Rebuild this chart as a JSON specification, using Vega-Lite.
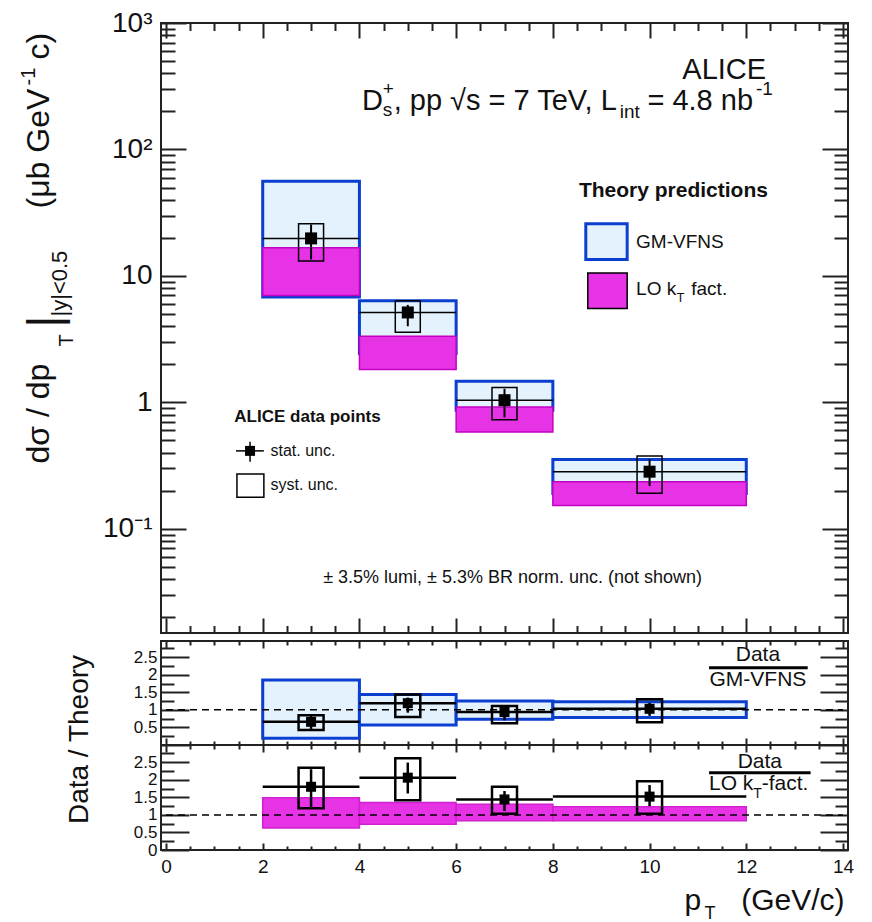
{
  "$schema": "https://vega.github.io/schema/vega-lite/v6.json",
  "background": "white",
  "padding": {"left": 17, "top": 8, "right": 5, "bottom": 0},
  "spacing": 0,
  "bounds": "flush",
  "resolve": {"scale": {"x": "independent", "y": "independent"}},
  "config": {
    "font": "Liberation Sans",
    "view": {"stroke": "#222", "strokeWidth": 2},
    "axis": {"grid": false, "domain": false, "labelFlush": false, "labelOverlap": false, "tickColor": "#222", "tickWidth": 2, "labelColor": "#111", "titleColor": "#111", "titleFontWeight": "normal", "labelFont": "Liberation Sans", "titleFont": "Liberation Sans", "zindex": 1, "titlePadding": 0},
    "text": {"font": "Liberation Sans", "color": "#111"}
  },
  "datasets": {
    "top_data": [
      {"pt": 3, "pt_lo": 2, "pt_hi": 4, "val": 19.8, "stat_lo": 13.5, "stat_hi": 25.5, "syst_lo": 13.1, "syst_hi": 25.8},
      {"pt": 5, "pt_lo": 4, "pt_hi": 6, "val": 5.14, "stat_lo": 4.0, "stat_hi": 5.9, "syst_lo": 3.58, "syst_hi": 6.36},
      {"pt": 7, "pt_lo": 6, "pt_hi": 8, "val": 1.04, "stat_lo": 0.76, "stat_hi": 1.28, "syst_lo": 0.73, "syst_hi": 1.31},
      {"pt": 10, "pt_lo": 8, "pt_hi": 12, "val": 0.283, "stat_lo": 0.218, "stat_hi": 0.354, "syst_lo": 0.191, "syst_hi": 0.376}
    ],
    "top_gm": [
      {"pt_lo": 2, "pt_hi": 4, "lo": 6.8, "hi": 56},
      {"pt_lo": 4, "pt_hi": 6, "lo": 2.43, "hi": 6.36},
      {"pt_lo": 6, "pt_hi": 8, "lo": 0.865, "hi": 1.47},
      {"pt_lo": 8, "pt_hi": 12, "lo": 0.19, "hi": 0.354}
    ],
    "top_lo": [
      {"pt_lo": 2, "pt_hi": 4, "lo": 7.0, "hi": 16.7},
      {"pt_lo": 4, "pt_hi": 6, "lo": 1.82, "hi": 3.33},
      {"pt_lo": 6, "pt_hi": 8, "lo": 0.584, "hi": 0.918},
      {"pt_lo": 8, "pt_hi": 12, "lo": 0.153, "hi": 0.236}
    ],
    "gm_ratio": [
      {"pt": 3, "pt_lo": 2, "pt_hi": 4, "val": 0.66, "stat_lo": 0.45, "stat_hi": 0.83, "syst_lo": 0.43, "syst_hi": 0.85},
      {"pt": 5, "pt_lo": 4, "pt_hi": 6, "val": 1.19, "stat_lo": 0.92, "stat_hi": 1.35, "syst_lo": 0.80, "syst_hi": 1.44},
      {"pt": 7, "pt_lo": 6, "pt_hi": 8, "val": 0.94, "stat_lo": 0.70, "stat_hi": 1.06, "syst_lo": 0.62, "syst_hi": 1.11},
      {"pt": 10, "pt_lo": 8, "pt_hi": 12, "val": 1.03, "stat_lo": 0.83, "stat_hi": 1.20, "syst_lo": 0.65, "syst_hi": 1.30}
    ],
    "gm_band": [
      {"pt_lo": 2, "pt_hi": 4, "lo": 0.19, "hi": 1.85},
      {"pt_lo": 4, "pt_hi": 6, "lo": 0.57, "hi": 1.44},
      {"pt_lo": 6, "pt_hi": 8, "lo": 0.73, "hi": 1.25},
      {"pt_lo": 8, "pt_hi": 12, "lo": 0.78, "hi": 1.23}
    ],
    "lo_ratio": [
      {"pt": 3, "pt_lo": 2, "pt_hi": 4, "val": 1.80, "stat_lo": 1.2, "stat_hi": 2.3, "syst_lo": 1.19, "syst_hi": 2.34},
      {"pt": 5, "pt_lo": 4, "pt_hi": 6, "val": 2.06, "stat_lo": 1.61, "stat_hi": 2.49, "syst_lo": 1.42, "syst_hi": 2.61},
      {"pt": 7, "pt_lo": 6, "pt_hi": 8, "val": 1.44, "stat_lo": 1.11, "stat_hi": 1.68, "syst_lo": 1.03, "syst_hi": 1.80},
      {"pt": 10, "pt_lo": 8, "pt_hi": 12, "val": 1.52, "stat_lo": 1.25, "stat_hi": 1.85, "syst_lo": 1.03, "syst_hi": 1.96}
    ],
    "lo_band": [
      {"pt_lo": 2, "pt_hi": 4, "lo": 0.63, "hi": 1.49},
      {"pt_lo": 4, "pt_hi": 6, "lo": 0.73, "hi": 1.35},
      {"pt_lo": 6, "pt_hi": 8, "lo": 0.83, "hi": 1.30},
      {"pt_lo": 8, "pt_hi": 12, "lo": 0.83, "hi": 1.23}
    ]
  },
  "vconcat": [
    {
      "width": 687, "height": 610,
      "resolve": {"axis": {"x": "independent", "y": "independent"}},
      "layer": [
        {"data": {"name": "top_gm"}, "mark": {"type": "rect", "fill": "#e3f2fc", "stroke": "#0b3fd0", "strokeWidth": 3},
         "encoding": {
           "x": {"field": "pt_lo", "type": "quantitative", "scale": {"domain": [0, 14], "nice": false, "zero": false},
                 "axis": {"orient": "bottom", "values": [0, 2, 4, 6, 8, 10, 12, 14], "labels": false, "tickSize": -15, "title": null}},
           "x2": {"field": "pt_hi"},
           "y": {"field": "lo", "type": "quantitative", "scale": {"type": "log", "domain": [0.015, 1000], "nice": false},
                 "axis": {"orient": "left", "values": [0.1, 1, 10, 100, 1000], "ticks": false, "labelPadding": 9, "labelFontSize": 28, "labelBaseline": "middle", "labelAlign": "right",
                          "labelExpr": "datum.value > 500 ? '10³' : datum.value > 50 ? '10²' : datum.value > 5 ? '10' : datum.value > 0.5 ? '1' : '10⁻¹'",
                          "title": "dσ / dp", "titleFontSize": 32, "titleAngle": -90, "titleX": -113, "titleY": 440, "titleAlign": "left", "titleBaseline": "alphabetic"}},
           "y2": {"field": "hi"}}},
        {"data": {"name": "top_lo"}, "mark": {"type": "rect", "fill": "#e633e6", "stroke": "#c400c4", "strokeWidth": 1.5},
         "encoding": {
           "x": {"field": "pt_lo", "type": "quantitative",
                 "axis": {"orient": "bottom", "values": [0.5, 1, 1.5, 2.5, 3, 3.5, 4.5, 5, 5.5, 6.5, 7, 7.5, 8.5, 9, 9.5, 10.5, 11, 11.5, 12.5, 13, 13.5], "labels": false, "tickSize": -7.5, "title": null}},
           "x2": {"field": "pt_hi"},
           "y": {"field": "lo", "type": "quantitative",
                 "axis": {"orient": "left", "values": [0.1, 1, 10, 100, 1000], "labels": false, "tickSize": -25,
                          "title": "T", "titleFontSize": 20, "titleAngle": -90, "titleX": -89, "titleY": 317, "titleAlign": "center", "titleBaseline": "alphabetic"}},
           "y2": {"field": "hi"}}},
        {"data": {"name": "top_data"}, "mark": {"type": "rule", "stroke": "#000", "strokeWidth": 1.5},
         "encoding": {
           "x": {"field": "pt_lo", "type": "quantitative",
                 "axis": {"orient": "top", "values": [0, 2, 4, 6, 8, 10, 12, 14], "labels": false, "tickSize": -15,
                          "title": "-1", "titleFontSize": 20, "titleAngle": -90, "titleX": -127, "titleY": 62, "titleAlign": "left", "titleBaseline": "alphabetic"}},
           "x2": {"field": "pt_hi"},
           "y": {"field": "val", "type": "quantitative",
                 "axis": {"orient": "left", "values": [0.02, 0.03, 0.04, 0.05, 0.06, 0.07, 0.08, 0.09, 0.2, 0.3, 0.4, 0.5, 0.6, 0.7, 0.8, 0.9, 2, 3, 4, 5, 6, 7, 8, 9, 20, 30, 40, 50, 60, 70, 80, 90, 200, 300, 400, 500, 600, 700, 800, 900], "labels": false, "tickSize": -14,
                          "title": "|", "titleFontSize": 46, "titleAngle": -90, "titleX": -102, "titleY": 298, "titleAlign": "center", "titleBaseline": "alphabetic"}}}},
        {"data": {"name": "top_data"}, "mark": {"type": "bar", "width": 25, "fill": "transparent", "stroke": "#000", "strokeWidth": 1.5},
         "encoding": {
           "x": {"field": "pt", "type": "quantitative",
                 "axis": {"orient": "top", "values": [0.5, 1, 1.5, 2.5, 3, 3.5, 4.5, 5, 5.5, 6.5, 7, 7.5, 8.5, 9, 9.5, 10.5, 11, 11.5, 12.5, 13, 13.5], "labels": false, "tickSize": -7.5,
                          "title": "c)", "titleFontSize": 32, "titleAngle": -90, "titleX": -113, "titleY": 36, "titleAlign": "left", "titleBaseline": "alphabetic"}},
           "y": {"field": "syst_lo", "type": "quantitative",
                 "axis": {"orient": "right", "values": [0.1, 1, 10, 100, 1000], "labels": false, "tickSize": -26,
                          "title": "|y|<0.5", "titleFontSize": 22, "titleAngle": -90, "titleX": -782, "titleY": 293, "titleAlign": "left", "titleBaseline": "alphabetic"}},
           "y2": {"field": "syst_hi"}}},
        {"data": {"name": "top_data"}, "mark": {"type": "rule", "stroke": "#000", "strokeWidth": 2},
         "encoding": {
           "x": {"field": "pt", "type": "quantitative", "axis": null},
           "y": {"field": "stat_lo", "type": "quantitative",
                 "axis": {"orient": "right", "values": [0.02, 0.03, 0.04, 0.05, 0.06, 0.07, 0.08, 0.09, 0.2, 0.3, 0.4, 0.5, 0.6, 0.7, 0.8, 0.9, 2, 3, 4, 5, 6, 7, 8, 9, 20, 30, 40, 50, 60, 70, 80, 90, 200, 300, 400, 500, 600, 700, 800, 900], "labels": false, "tickSize": -14,
                          "title": "(μb GeV", "titleFontSize": 32, "titleAngle": -90, "titleX": -800, "titleY": 185, "titleAlign": "left", "titleBaseline": "alphabetic"}},
           "y2": {"field": "stat_hi"}}},
        {"data": {"name": "top_data"}, "mark": {"type": "point", "shape": "square", "filled": true, "size": 144, "color": "#000", "opacity": 1},
         "encoding": {"x": {"field": "pt", "type": "quantitative", "axis": null}, "y": {"field": "val", "type": "quantitative", "axis": null}}},

        {"data": {"values": [{}]}, "mark": {"type": "rect", "fill": "#e3f2fc", "stroke": "#0b3fd0", "strokeWidth": 3},
         "encoding": {"x": {"datum": 8.681, "axis": null}, "x2": {"datum": 9.537}, "y": {"datum": 13.5, "axis": null}, "y2": {"datum": 25.8}}},
        {"data": {"values": [{}]}, "mark": {"type": "rect", "fill": "#e633e6", "stroke": "#000", "strokeWidth": 1.5},
         "encoding": {"x": {"datum": 8.722, "axis": null}, "x2": {"datum": 9.537}, "y": {"datum": 5.53, "axis": null}, "y2": {"datum": 10.56}}},
        {"data": {"values": [{}]}, "mark": {"type": "rule", "stroke": "#000", "strokeWidth": 1.5},
         "encoding": {"x": {"datum": 1.447, "axis": null}, "x2": {"datum": 2.024}, "y": {"datum": 0.4134, "axis": null}}},
        {"data": {"values": [{}]}, "mark": {"type": "rule", "stroke": "#000", "strokeWidth": 1.5},
         "encoding": {"x": {"datum": 1.738, "axis": null}, "y": {"datum": 0.339, "axis": null}, "y2": {"datum": 0.487}}},
        {"data": {"values": [{}]}, "mark": {"type": "point", "shape": "square", "filled": true, "size": 100, "color": "#000", "opacity": 1},
         "encoding": {"x": {"datum": 1.738, "axis": null}, "y": {"datum": 0.4134, "axis": null}}},
        {"data": {"values": [{}]}, "mark": {"type": "rect", "fill": "transparent", "stroke": "#000", "strokeWidth": 1.5},
         "encoding": {"x": {"datum": 1.467, "axis": null}, "x2": {"datum": 2.024}, "y": {"datum": 0.178, "axis": null}, "y2": {"datum": 0.271}}},

        {"data": {"values": [{}]}, "mark": {"type": "text", "text": "ALICE", "fontSize": 29, "align": "right", "baseline": "alphabetic"},
         "encoding": {"x": {"datum": 12.41, "axis": null}, "y": {"datum": 362.4, "axis": null}}},
        {"data": {"values": [{}]}, "mark": {"type": "text", "text": "D", "fontSize": 29, "align": "left", "baseline": "alphabetic"},
         "encoding": {"x": {"datum": 4.055, "axis": null}, "y": {"datum": 206.5, "axis": null}}},
        {"data": {"values": [{}]}, "mark": {"type": "text", "text": "s", "fontSize": 19, "align": "left", "baseline": "alphabetic"},
         "encoding": {"x": {"datum": 4.483, "axis": null}, "y": {"datum": 185.3, "axis": null}}},
        {"data": {"values": [{}]}, "mark": {"type": "text", "text": "+", "fontSize": 19, "align": "left", "baseline": "alphabetic"},
         "encoding": {"x": {"datum": 4.483, "axis": null}, "y": {"datum": 271, "axis": null}}},
        {"data": {"values": [{}]}, "mark": {"type": "text", "text": ", pp √s = 7 TeV, L", "fontSize": 29, "align": "left", "baseline": "alphabetic"},
         "encoding": {"x": {"datum": 4.708, "axis": null}, "y": {"datum": 206.5, "axis": null}}},
        {"data": {"values": [{}]}, "mark": {"type": "text", "text": "int", "fontSize": 19, "align": "left", "baseline": "alphabetic"},
         "encoding": {"x": {"datum": 9.385, "axis": null}, "y": {"datum": 178.6, "axis": null}}},
        {"data": {"values": [{}]}, "mark": {"type": "text", "text": "= 4.8 nb", "fontSize": 29, "align": "left", "baseline": "alphabetic"},
         "encoding": {"x": {"datum": 9.955, "axis": null}, "y": {"datum": 206.5, "axis": null}}},
        {"data": {"values": [{}]}, "mark": {"type": "text", "text": "-1", "fontSize": 19, "align": "left", "baseline": "alphabetic"},
         "encoding": {"x": {"datum": 12.2, "axis": null}, "y": {"datum": 271, "axis": null}}},
        {"data": {"values": [{}]}, "mark": {"type": "text", "text": "Theory predictions", "fontSize": 21, "fontWeight": "bold", "align": "left", "baseline": "middle"},
         "encoding": {"x": {"datum": 8.539, "axis": null}, "y": {"datum": 46.7, "axis": null}}},
        {"data": {"values": [{}]}, "mark": {"type": "text", "text": "GM-VFNS", "fontSize": 19, "align": "left", "baseline": "middle"},
         "encoding": {"x": {"datum": 9.721, "axis": null}, "y": {"datum": 18.6, "axis": null}}},
        {"data": {"values": [{}]}, "mark": {"type": "text", "text": "LO k", "fontSize": 19, "align": "left", "baseline": "middle"},
         "encoding": {"x": {"datum": 9.721, "axis": null}, "y": {"datum": 7.86, "axis": null}}},
        {"data": {"values": [{}]}, "mark": {"type": "text", "text": "T", "fontSize": 13, "align": "left", "baseline": "middle"},
         "encoding": {"x": {"datum": 10.556, "axis": null}, "y": {"datum": 6.71, "axis": null}}},
        {"data": {"values": [{}]}, "mark": {"type": "text", "text": "fact.", "fontSize": 19, "align": "left", "baseline": "middle"},
         "encoding": {"x": {"datum": 10.862, "axis": null}, "y": {"datum": 7.86, "axis": null}}},
        {"data": {"values": [{}]}, "mark": {"type": "text", "text": "ALICE data points", "fontSize": 17, "fontWeight": "bold", "align": "left", "baseline": "middle"},
         "encoding": {"x": {"datum": 1.413, "axis": null}, "y": {"datum": 0.766, "axis": null}}},
        {"data": {"values": [{}]}, "mark": {"type": "text", "text": "stat. unc.", "fontSize": 16, "align": "left", "baseline": "middle"},
         "encoding": {"x": {"datum": 2.16, "axis": null}, "y": {"datum": 0.4134, "axis": null}}},
        {"data": {"values": [{}]}, "mark": {"type": "text", "text": "syst. unc.", "fontSize": 16, "align": "left", "baseline": "middle"},
         "encoding": {"x": {"datum": 2.16, "axis": null}, "y": {"datum": 0.222, "axis": null}}},
        {"data": {"values": [{}]}, "mark": {"type": "text", "text": "± 3.5% lumi, ± 5.3% BR norm. unc. (not shown)", "fontSize": 18, "align": "right", "baseline": "middle"},
         "encoding": {"x": {"datum": 11.086, "axis": null}, "y": {"datum": 0.0411, "axis": null}}}
      ]
    },
    {
      "width": 687, "height": 8,
      "view": {"stroke": null},
      "data": {"values": []},
      "mark": {"type": "rule"},
      "encoding": {}
    },
    {
      "width": 687, "height": 104,
      "resolve": {"axis": {"x": "independent", "y": "independent"}},
      "layer": [
        {"data": {"name": "gm_band"}, "mark": {"type": "rect", "fill": "#e3f2fc", "stroke": "#0b3fd0", "strokeWidth": 3},
         "encoding": {
           "x": {"field": "pt_lo", "type": "quantitative", "scale": {"domain": [0, 14], "nice": false, "zero": false},
                 "axis": {"orient": "bottom", "values": [0, 2, 4, 6, 8, 10, 12, 14], "labels": false, "tickSize": -7, "title": null}},
           "x2": {"field": "pt_hi"},
           "y": {"field": "lo", "type": "quantitative", "scale": {"domain": [0, 2.96], "nice": false, "zero": false},
                 "axis": {"orient": "left", "values": [0.5, 1, 1.5, 2, 2.5], "ticks": false, "labelPadding": 4, "labelFontSize": 17, "format": "~g", "labelBaseline": "middle", "labelAlign": "right",
                          "title": "Data / Theory", "titleFontSize": 28, "titleAngle": -90, "titleX": -74, "titleY": 98, "titleAlign": "center", "titleBaseline": "alphabetic"}},
           "y2": {"field": "hi"}}},
        {"data": {"values": [{}]}, "mark": {"type": "rule", "stroke": "#000", "strokeWidth": 1.5, "strokeDash": [7, 5]},
         "encoding": {"x": {"datum": 0, "axis": null}, "x2": {"datum": 14}, "y": {"datum": 1, "axis": null}}},
        {"data": {"name": "gm_ratio"}, "mark": {"type": "rule", "stroke": "#000", "strokeWidth": 2.5},
         "encoding": {
           "x": {"field": "pt_lo", "type": "quantitative",
                 "axis": {"orient": "bottom", "values": [0.5, 1, 1.5, 2.5, 3, 3.5, 4.5, 5, 5.5, 6.5, 7, 7.5, 8.5, 9, 9.5, 10.5, 11, 11.5, 12.5, 13, 13.5], "labels": false, "tickSize": -4, "title": null}},
           "x2": {"field": "pt_hi"},
           "y": {"field": "val", "type": "quantitative",
                 "axis": {"orient": "left", "values": [0, 0.5, 1, 1.5, 2, 2.5], "labels": false, "tickSize": -28, "title": null}}}},
        {"data": {"name": "gm_ratio"}, "mark": {"type": "bar", "width": 25, "fill": "transparent", "stroke": "#000", "strokeWidth": 2.5},
         "encoding": {
           "x": {"field": "pt", "type": "quantitative",
                 "axis": {"orient": "top", "values": [0, 2, 4, 6, 8, 10, 12, 14], "labels": false, "tickSize": -7, "title": null}},
           "y": {"field": "syst_lo", "type": "quantitative",
                 "axis": {"orient": "left", "values": [0.25, 0.75, 1.25, 1.75, 2.25, 2.75], "labels": false, "tickSize": -13, "title": null}},
           "y2": {"field": "syst_hi"}}},
        {"data": {"name": "gm_ratio"}, "mark": {"type": "rule", "stroke": "#000", "strokeWidth": 2.5},
         "encoding": {
           "x": {"field": "pt", "type": "quantitative",
                 "axis": {"orient": "top", "values": [0.5, 1, 1.5, 2.5, 3, 3.5, 4.5, 5, 5.5, 6.5, 7, 7.5, 8.5, 9, 9.5, 10.5, 11, 11.5, 12.5, 13, 13.5], "labels": false, "tickSize": -4, "title": null}},
           "y": {"field": "stat_lo", "type": "quantitative",
                 "axis": {"orient": "right", "values": [0, 0.5, 1, 1.5, 2, 2.5], "labels": false, "tickSize": -28, "title": null}},
           "y2": {"field": "stat_hi"}}},
        {"data": {"name": "gm_ratio"}, "mark": {"type": "point", "shape": "square", "filled": true, "size": 100, "color": "#000", "opacity": 1},
         "encoding": {
           "x": {"field": "pt", "type": "quantitative", "axis": null},
           "y": {"field": "val", "type": "quantitative",
                 "axis": {"orient": "right", "values": [0.25, 0.75, 1.25, 1.75, 2.25, 2.75], "labels": false, "tickSize": -13, "title": null}}}},
        {"data": {"values": [{}]}, "mark": {"type": "text", "text": "Data", "fontSize": 21, "align": "center", "baseline": "middle"},
         "encoding": {"x": {"datum": 12.24, "axis": null}, "y": {"datum": 2.56, "axis": null}}},
        {"data": {"values": [{}]}, "mark": {"type": "rule", "stroke": "#000", "strokeWidth": 3},
         "encoding": {"x": {"datum": 11.23, "axis": null}, "x2": {"datum": 13.27}, "y": {"datum": 2.2, "axis": null}}},
        {"data": {"values": [{}]}, "mark": {"type": "text", "text": "GM-VFNS", "fontSize": 21, "align": "center", "baseline": "middle"},
         "encoding": {"x": {"datum": 12.24, "axis": null}, "y": {"datum": 1.84, "axis": null}}}
      ]
    },
    {
      "width": 687, "height": 105,
      "resolve": {"axis": {"x": "independent", "y": "independent"}},
      "layer": [
        {"data": {"name": "lo_band"}, "mark": {"type": "rect", "fill": "#e633e6", "stroke": "#d020d0", "strokeWidth": 1.5},
         "encoding": {
           "x": {"field": "pt_lo", "type": "quantitative", "scale": {"domain": [0, 14], "nice": false, "zero": false},
                 "axis": {"orient": "bottom", "values": [0, 2, 4, 6, 8, 10, 12, 14], "labels": false, "tickSize": -7,
                          "title": "p", "titleFontSize": 30, "titleX": 523, "titleY": 59, "titleAlign": "left", "titleBaseline": "alphabetic", "titleAngle": 0}},
           "x2": {"field": "pt_hi"},
           "y": {"field": "lo", "type": "quantitative", "scale": {"domain": [0, 2.99], "nice": false, "zero": false},
                 "axis": {"orient": "left", "values": [0, 0.5, 1, 1.5, 2, 2.5], "ticks": false, "labelPadding": 4, "labelFontSize": 17, "format": "~g", "labelBaseline": "middle", "labelAlign": "right", "title": null}},
           "y2": {"field": "hi"}}},
        {"data": {"values": [{}]}, "mark": {"type": "rule", "stroke": "#000", "strokeWidth": 1.5, "strokeDash": [7, 5]},
         "encoding": {"x": {"datum": 0, "axis": null}, "x2": {"datum": 14}, "y": {"datum": 1, "axis": null}}},
        {"data": {"name": "lo_ratio"}, "mark": {"type": "rule", "stroke": "#000", "strokeWidth": 2.5},
         "encoding": {
           "x": {"field": "pt_lo", "type": "quantitative",
                 "axis": {"orient": "bottom", "values": [0.5, 1, 1.5, 2.5, 3, 3.5, 4.5, 5, 5.5, 6.5, 7, 7.5, 8.5, 9, 9.5, 10.5, 11, 11.5, 12.5, 13, 13.5], "labels": false, "tickSize": -4,
                          "title": "T", "titleFontSize": 18, "titleX": 543, "titleY": 68, "titleAlign": "left", "titleBaseline": "alphabetic", "titleAngle": 0}},
           "x2": {"field": "pt_hi"},
           "y": {"field": "val", "type": "quantitative",
                 "axis": {"orient": "left", "values": [0, 0.5, 1, 1.5, 2, 2.5], "labels": false, "tickSize": -28, "title": null}}}},
        {"data": {"name": "lo_ratio"}, "mark": {"type": "bar", "width": 25, "fill": "transparent", "stroke": "#000", "strokeWidth": 2.5},
         "encoding": {
           "x": {"field": "pt", "type": "quantitative",
                 "axis": {"orient": "top", "values": [0, 2, 4, 6, 8, 10, 12, 14], "labels": false, "tickSize": -7, "title": null}},
           "y": {"field": "syst_lo", "type": "quantitative",
                 "axis": {"orient": "left", "values": [0.25, 0.75, 1.25, 1.75, 2.25, 2.75], "labels": false, "tickSize": -13, "title": null}},
           "y2": {"field": "syst_hi"}}},
        {"data": {"name": "lo_ratio"}, "mark": {"type": "rule", "stroke": "#000", "strokeWidth": 2.5},
         "encoding": {
           "x": {"field": "pt", "type": "quantitative",
                 "axis": {"orient": "top", "values": [0.5, 1, 1.5, 2.5, 3, 3.5, 4.5, 5, 5.5, 6.5, 7, 7.5, 8.5, 9, 9.5, 10.5, 11, 11.5, 12.5, 13, 13.5], "labels": false, "tickSize": -4, "title": null}},
           "y": {"field": "stat_lo", "type": "quantitative",
                 "axis": {"orient": "right", "values": [0, 0.5, 1, 1.5, 2, 2.5], "labels": false, "tickSize": -28, "title": null}},
           "y2": {"field": "stat_hi"}}},
        {"data": {"name": "lo_ratio"}, "mark": {"type": "point", "shape": "square", "filled": true, "size": 100, "color": "#000", "opacity": 1},
         "encoding": {
           "x": {"field": "pt", "type": "quantitative",
                 "axis": {"orient": "bottom", "values": [0, 2, 4, 6, 8, 10, 12, 14], "ticks": false, "labelPadding": 7, "labelFontSize": 19, "format": "~g",
                          "title": "(GeV/c)", "titleFontSize": 30, "titleX": 683, "titleY": 59, "titleAlign": "right", "titleBaseline": "alphabetic", "titleAngle": 0}},
           "y": {"field": "val", "type": "quantitative",
                 "axis": {"orient": "right", "values": [0.25, 0.75, 1.25, 1.75, 2.25, 2.75], "labels": false, "tickSize": -13, "title": null}}}},
        {"data": {"values": [{}]}, "mark": {"type": "text", "text": "Data", "fontSize": 21, "align": "center", "baseline": "middle"},
         "encoding": {"x": {"datum": 12.28, "axis": null}, "y": {"datum": 2.51, "axis": null}}},
        {"data": {"values": [{}]}, "mark": {"type": "rule", "stroke": "#000", "strokeWidth": 3},
         "encoding": {"x": {"datum": 11.23, "axis": null}, "x2": {"datum": 13.33}, "y": {"datum": 2.2, "axis": null}}},
        {"data": {"values": [{}]}, "mark": {"type": "text", "text": "LO k", "fontSize": 21, "align": "right", "baseline": "middle"},
         "encoding": {"x": {"datum": 12.146, "axis": null}, "y": {"datum": 1.87, "axis": null}}},
        {"data": {"values": [{}]}, "mark": {"type": "text", "text": "T", "fontSize": 14, "align": "left", "baseline": "middle"},
         "encoding": {"x": {"datum": 12.146, "axis": null}, "y": {"datum": 1.59, "axis": null}}},
        {"data": {"values": [{}]}, "mark": {"type": "text", "text": "-fact.", "fontSize": 21, "align": "left", "baseline": "middle"},
         "encoding": {"x": {"datum": 12.32, "axis": null}, "y": {"datum": 1.87, "axis": null}}}
      ]
    }
  ]
}
